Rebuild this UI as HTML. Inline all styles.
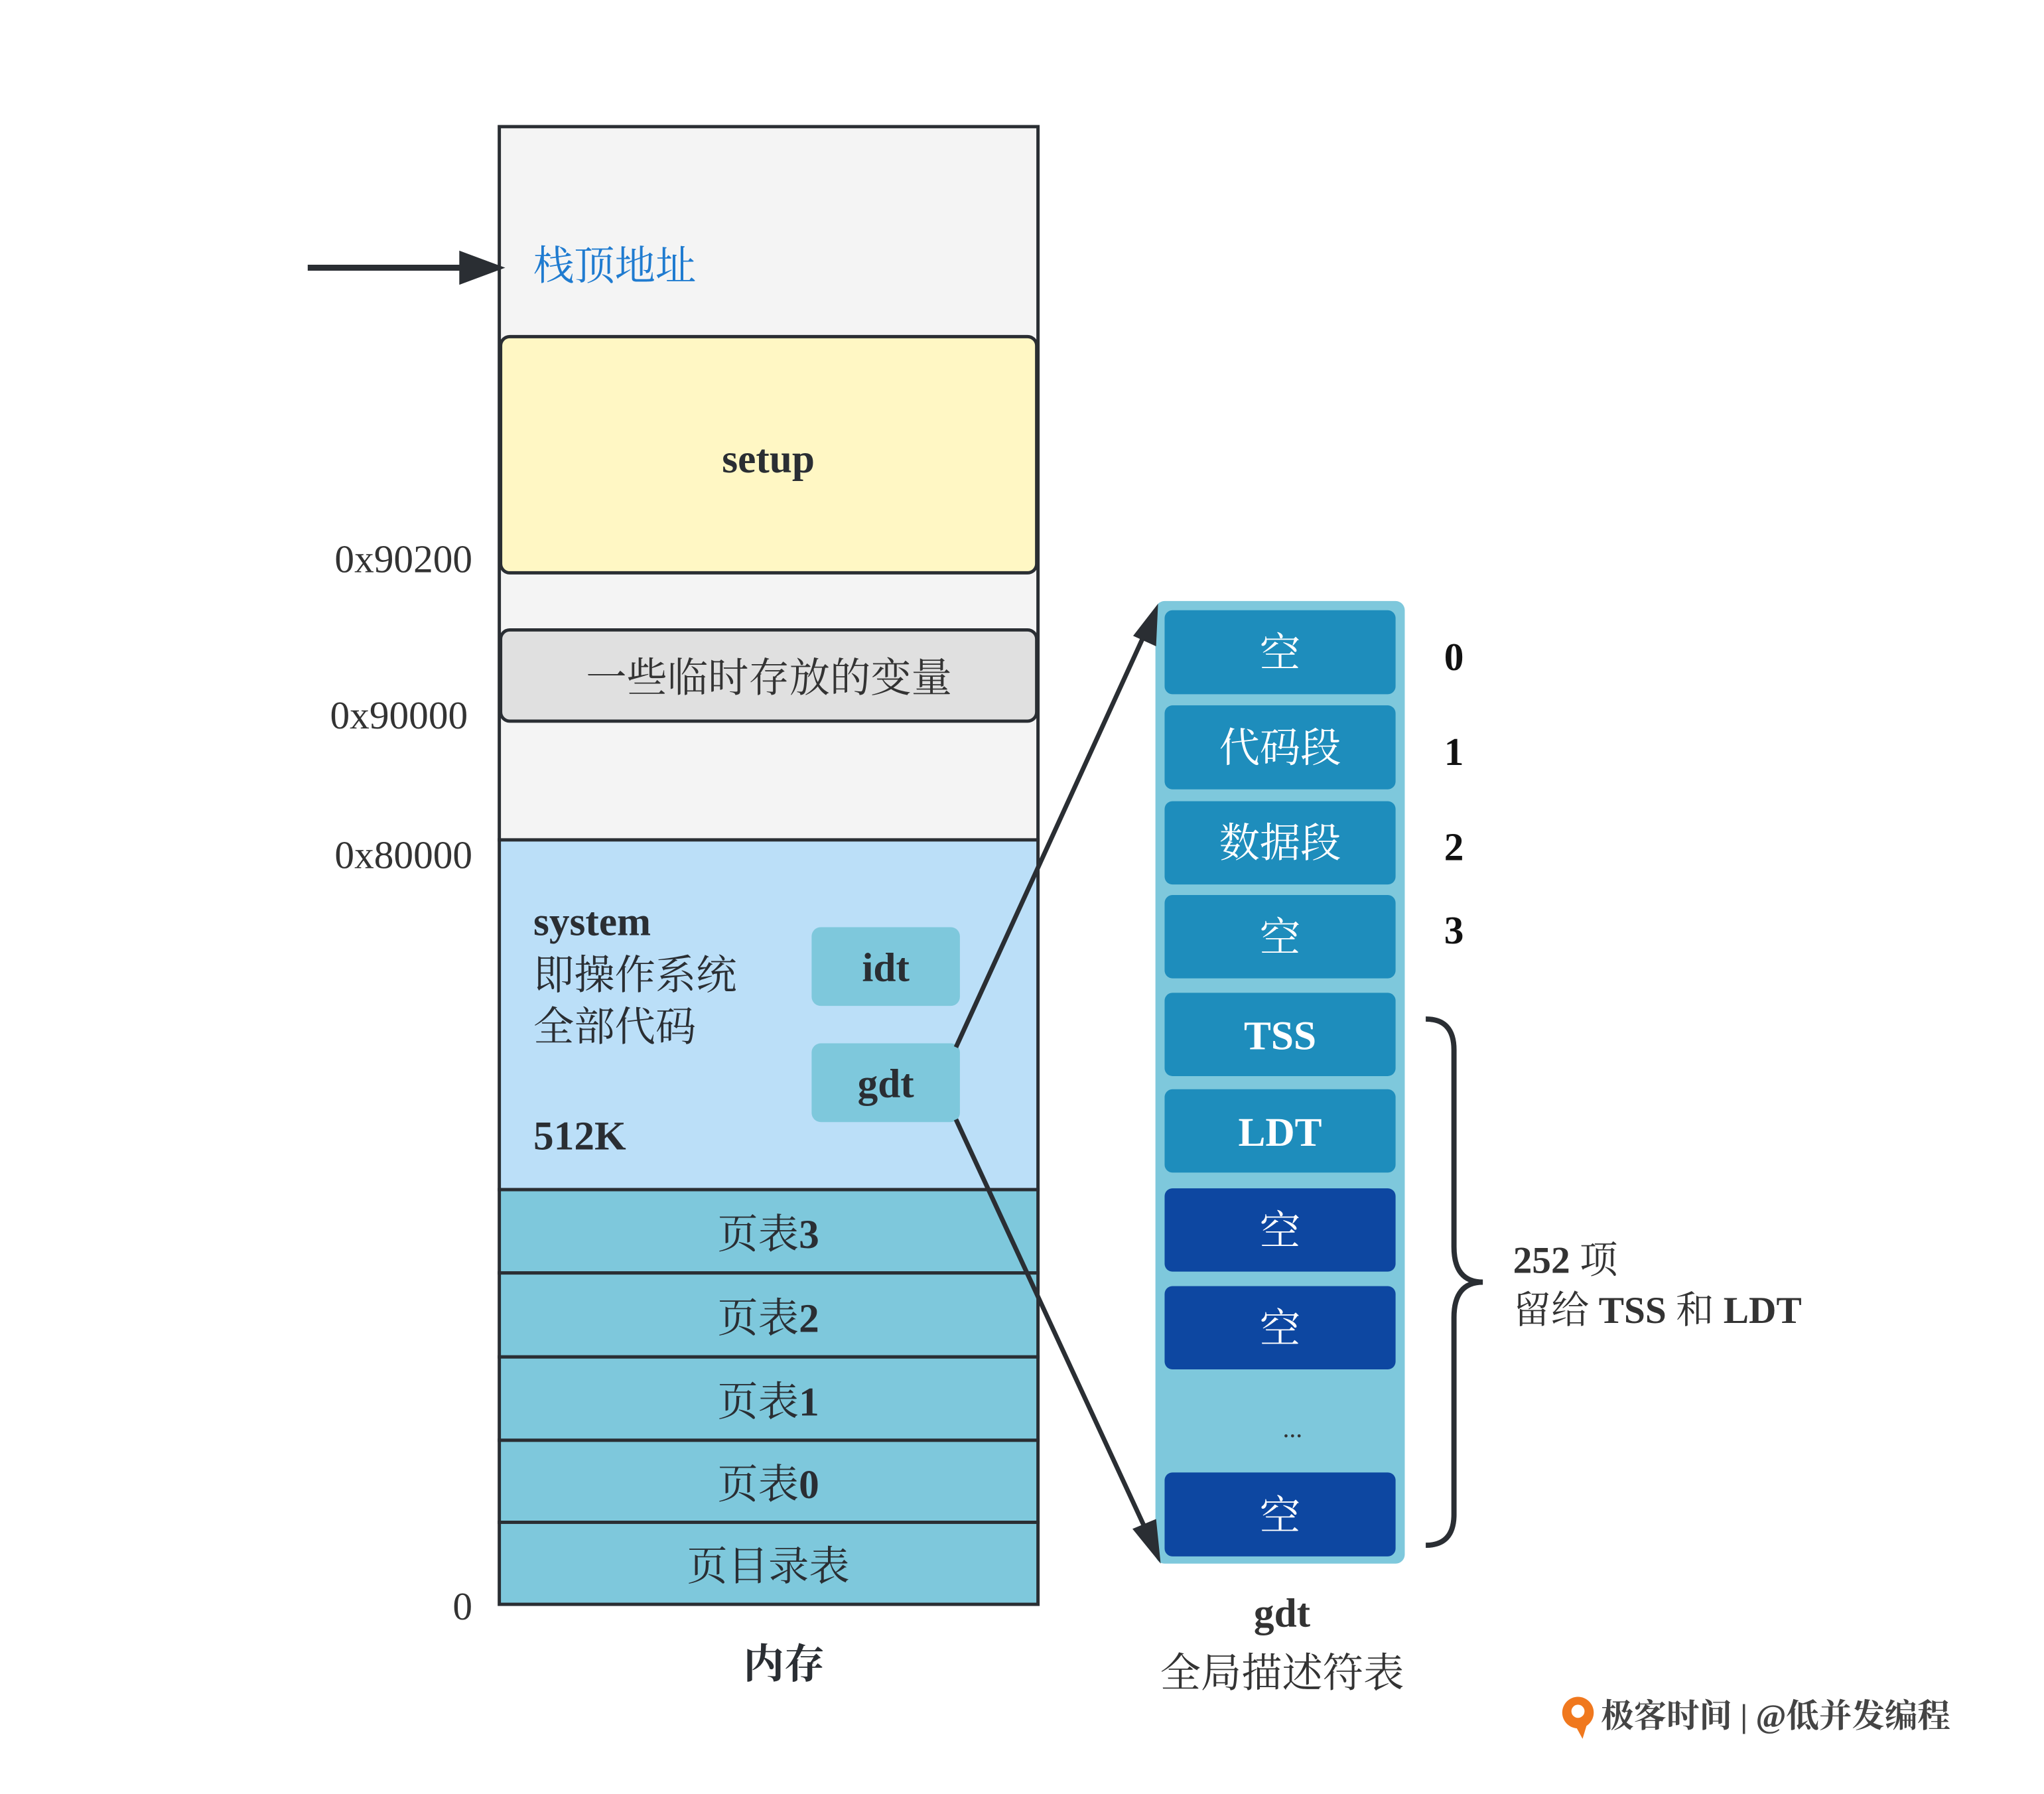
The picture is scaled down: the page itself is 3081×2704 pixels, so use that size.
<!DOCTYPE html>
<html><head><meta charset="utf-8"><style>
html,body{margin:0;padding:0;background:#fff;}
svg{display:block;}
text{font-family:"Liberation Serif","Noto Serif CJK SC",serif;}
</style></head><body>
<svg width="3081" height="2704" viewBox="0 0 3081 2704" xmlns="http://www.w3.org/2000/svg">
<g transform="scale(0.989)">
<!-- memory column -->
<rect x="761" y="193" width="821" height="1087" fill="#f4f4f4" stroke="#2a2e33" stroke-width="5"/>
<rect x="763" y="513" width="817" height="360" rx="14" fill="#fff7c4" stroke="#2a2e33" stroke-width="5"/>
<rect x="763" y="960" width="817" height="139" rx="14" fill="#e0e0e0" stroke="#2a2e33" stroke-width="5"/>
<rect x="761" y="1280" width="821" height="533" fill="#bbdff8" stroke="#2a2e33" stroke-width="5"/>
<g fill="#7ec8dc" stroke="#2a2e33" stroke-width="5">
<rect x="761" y="1813" width="821" height="127"/>
<rect x="761" y="1940" width="821" height="128"/>
<rect x="761" y="2068" width="821" height="127"/>
<rect x="761" y="2195" width="821" height="125"/>
<rect x="761" y="2320" width="821" height="125"/>
</g>
<rect x="1237" y="1413" width="226" height="120" rx="14" fill="#7ec8dc"/>
<rect x="1237" y="1590" width="226" height="120" rx="14" fill="#7ec8dc"/>

<g fill="#2a2e33" font-size="62">
<text x="1171" y="720" text-anchor="middle" font-weight="bold">setup</text>
<text x="1172" y="1054" text-anchor="middle" fill="#333">一些临时存放的变量</text>
<text x="813" y="1425" font-weight="bold">system</text>
<text x="813" y="1507">即操作系统</text>
<text x="813" y="1586">全部代码</text>
<text x="813" y="1752" font-weight="bold">512K</text>
<text x="1350" y="1495" text-anchor="middle" font-weight="bold">idt</text>
<text x="1350" y="1672" text-anchor="middle" font-weight="bold">gdt</text>
<text x="1171" y="1902" text-anchor="middle">页表<tspan font-weight="bold">3</tspan></text>
<text x="1171" y="2030" text-anchor="middle">页表<tspan font-weight="bold">2</tspan></text>
<text x="1171" y="2157" text-anchor="middle">页表<tspan font-weight="bold">1</tspan></text>
<text x="1171" y="2283" text-anchor="middle">页表<tspan font-weight="bold">0</tspan></text>
<text x="1171" y="2408" text-anchor="middle">页目录表</text>
<text x="1195" y="2557" text-anchor="middle" font-weight="bold">内存</text>
</g>
<text x="813" y="426" font-size="62" fill="#1f7bd0">栈顶地址</text>

<g fill="#333" font-size="60" text-anchor="end">
<text x="720" y="872">0x90200</text>
<text x="713" y="1110">0x90000</text>
<text x="720" y="1323">0x80000</text>
<text x="720" y="2468">0</text>
</g>

<!-- stack arrow -->
<line x1="469" y1="408" x2="710" y2="408" stroke="#2a2e33" stroke-width="9"/>
<polygon points="700,382 770,408 700,434" fill="#2a2e33"/>

<!-- gdt panel -->
<rect x="1761" y="916" width="380" height="1467" rx="14" fill="#7ec8dc"/>
<g fill="#1e8dbc">
<rect x="1775" y="930" width="352" height="128" rx="12"/>
<rect x="1775" y="1075" width="352" height="128" rx="12"/>
<rect x="1775" y="1221" width="352" height="127" rx="12"/>
<rect x="1775" y="1364" width="352" height="127" rx="12"/>
<rect x="1775" y="1513" width="352" height="127" rx="12"/>
<rect x="1775" y="1660" width="352" height="127" rx="12"/>
</g>
<g fill="#0d47a1">
<rect x="1775" y="1811" width="352" height="127" rx="12"/>
<rect x="1775" y="1960" width="352" height="127" rx="12"/>
<rect x="1775" y="2244" width="352" height="128" rx="12"/>
</g>
<g fill="#fff" font-size="62" text-anchor="middle">
<text x="1951" y="1016">空</text>
<text x="1951" y="1161">代码段</text>
<text x="1951" y="1306">数据段</text>
<text x="1951" y="1450">空</text>
<text x="1951" y="1599" font-weight="bold">TSS</text>
<text x="1951" y="1746" font-weight="bold">LDT</text>
<text x="1951" y="1897">空</text>
<text x="1951" y="2046">空</text>
<text x="1951" y="2331">空</text>
</g>
<text x="1970" y="2190" font-size="40" fill="#333" text-anchor="middle">...</text>

<g fill="#111" font-size="60" font-weight="bold" text-anchor="middle">
<text x="2216" y="1021">0</text>
<text x="2216" y="1166">1</text>
<text x="2216" y="1311">2</text>
<text x="2216" y="1438">3</text>
</g>

<!-- connectors -->
<line x1="1457" y1="1596" x2="1752" y2="950" stroke="#2a2e33" stroke-width="7"/>
<polygon points="1765,920 1762,985 1727,969" fill="#2a2e33"/>
<line x1="1457" y1="1706" x2="1755" y2="2350" stroke="#2a2e33" stroke-width="7"/>
<polygon points="1769,2383 1726,2330 1762,2315" fill="#2a2e33"/>

<!-- brace -->
<path d="M2173,1553 Q2216,1553 2216,1600 L2216,1900 Q2216,1954 2260,1954 Q2216,1954 2216,2008 L2216,2308 Q2216,2355 2173,2355" fill="none" stroke="#2a2e33" stroke-width="8"/>
<g fill="#333" font-size="58">
<text x="2306" y="1940"><tspan font-weight="bold">252</tspan> 项</text>
<text x="2306" y="2016">留给 <tspan font-weight="bold">TSS</tspan> 和 <tspan font-weight="bold">LDT</tspan></text>
</g>

<g fill="#333" font-size="62" text-anchor="middle">
<text x="1954" y="2479" font-weight="bold">gdt</text>
<text x="1954" y="2571">全局描述符表</text>
</g>

<!-- logo -->
<circle cx="2405" cy="2610" r="24" fill="#f0781e"/>
<circle cx="2405" cy="2608" r="10" fill="#fff"/>
<path d="M2400,2628 L2412,2650 L2418,2630 Z" fill="#f0781e"/>
<text x="2440" y="2632" font-size="50" font-weight="bold" fill="#444" font-family="'Liberation Sans','Noto Sans CJK SC',sans-serif">极客时间 | @低并发编程</text>
</g>
</svg>
</body></html>
